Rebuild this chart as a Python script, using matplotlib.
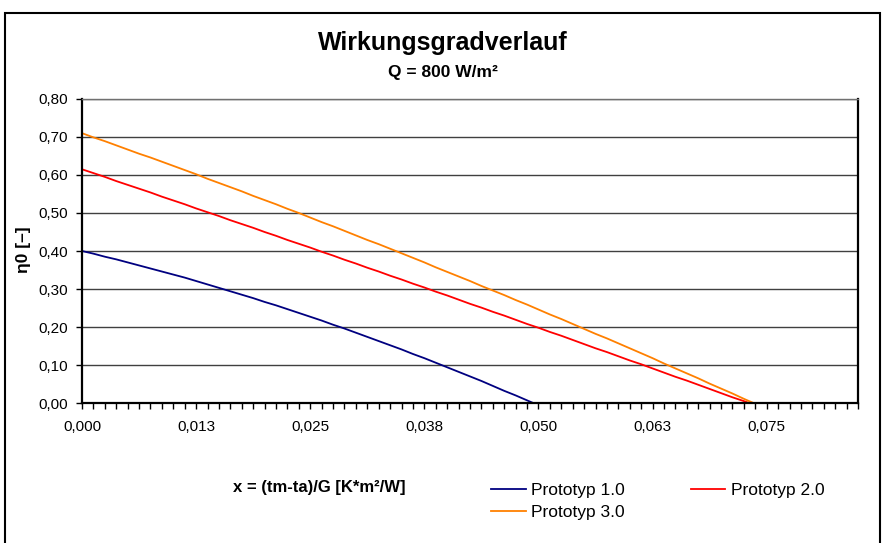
import numpy as np
from matplotlib import pyplot as plt
from matplotlib.patches import Rectangle

# x axis is an Excel category axis: one category per 1 K step at G = 800 W/m2
X_STEP = 0.00125
N_CATEGORIES = 69

X_TICK_LABELS = ["0,000", "0,013", "0,025", "0,038", "0,050", "0,063", "0,075"]
Y_TICKS = [0.0, 0.1, 0.2, 0.3, 0.4, 0.5, 0.6, 0.7, 0.8]
Y_TICK_LABELS = ["0,00", "0,10", "0,20", "0,30", "0,40", "0,50", "0,60", "0,70", "0,80"]

prototyp_1 = [
    0.400, 0.393, 0.385, 0.378, 0.370, 0.362, 0.354, 0.346, 0.338, 0.330,
    0.321, 0.312, 0.303, 0.294, 0.285, 0.276, 0.266, 0.257, 0.247, 0.237,
    0.227, 0.217, 0.206, 0.196, 0.185, 0.174, 0.163, 0.152, 0.141, 0.129,
    0.118, 0.106, 0.094, 0.082, 0.070, 0.058, 0.045, 0.032, 0.020, 0.007,
    -0.006,
]

prototyp_2 = [
    0.615, 0.605, 0.595, 0.584, 0.574, 0.564, 0.554, 0.543, 0.533, 0.523,
    0.512, 0.502, 0.492, 0.481, 0.471, 0.461, 0.450, 0.440, 0.429, 0.419,
    0.409, 0.398, 0.388, 0.377, 0.367, 0.356, 0.346, 0.335, 0.325, 0.314,
    0.304, 0.293, 0.283, 0.272, 0.261, 0.251, 0.240, 0.230, 0.219, 0.208,
    0.198, 0.187, 0.177, 0.166, 0.155, 0.144, 0.134, 0.123, 0.112, 0.102,
    0.091, 0.080, 0.069, 0.059, 0.048, 0.037, 0.026, 0.015, 0.005, -0.006,
]

prototyp_3 = [
    0.710, 0.699, 0.689, 0.678, 0.667, 0.656, 0.646, 0.635, 0.624, 0.613,
    0.602, 0.590, 0.579, 0.568, 0.557, 0.545, 0.534, 0.523, 0.511, 0.500,
    0.488, 0.476, 0.465, 0.453, 0.441, 0.429, 0.418, 0.406, 0.394, 0.382,
    0.370, 0.357, 0.345, 0.333, 0.321, 0.308, 0.296, 0.284, 0.271, 0.259,
    0.246, 0.233, 0.221, 0.208, 0.195, 0.182, 0.170, 0.157, 0.144, 0.131,
    0.118, 0.104, 0.091, 0.078, 0.065, 0.051, 0.038, 0.025, 0.011, -0.002,
]


def plot():
    plt.rcParams["font.family"] = ["Liberation Sans", "DejaVu Sans"]

    fig = plt.figure(figsize=(8.83, 5.43), dpi=100)
    ax = fig.add_axes([0.0929, 0.2578, 0.8788, 0.5599])

    series = [
        ("Prototyp 1.0", prototyp_1, "#000080"),
        ("Prototyp 2.0", prototyp_2, "#ff0000"),
        ("Prototyp 3.0", prototyp_3, "#ff8000"),
    ]
    handles = {}
    for name, values, color in series:
        x = np.arange(len(values)) * X_STEP
        (line,) = ax.plot(x, values, color=color, lw=1.3, label=name)
        handles[name] = line

    ax.set_xlim(0, (N_CATEGORIES - 1) * X_STEP)
    ax.set_ylim(0, 0.8)

    ax.set_xticks(np.arange(0, N_CATEGORIES, 10) * X_STEP)
    ax.set_xticklabels(X_TICK_LABELS)
    ax.set_xticks(np.arange(N_CATEGORIES) * X_STEP, minor=True)
    ax.set_yticks(Y_TICKS)
    ax.set_yticklabels(Y_TICK_LABELS)

    ax.tick_params(axis="both", which="both", direction="out", length=4, width=1,
                   labelsize=11, color="black")
    ax.tick_params(axis="x", which="major", pad=8)
    ax.tick_params(axis="y", pad=6)

    ax.yaxis.grid(True, color="#404040", lw=1)
    ax.set_axisbelow(True)

    for side in ["left", "bottom", "right"]:
        ax.spines[side].set_linewidth(1.6)
        ax.spines[side].set_color("black")
    ax.spines["top"].set_linewidth(1)
    ax.spines["top"].set_color("#707070")

    fig.text(0.502, 0.921, "Wirkungsgradverlauf", ha="center", va="center",
             fontsize=18, fontweight="bold")
    fig.text(0.502, 0.866, "Q = 800 W/m²", ha="center", va="center",
             fontsize=12.5, fontweight="bold")
    fig.text(0.027, 0.54, "η0 [–]", ha="center", va="center", rotation=90,
             fontsize=12.5, fontweight="bold")
    fig.text(0.361, 0.103, "x = (tm-ta)/G [K*m²/W]", ha="center", va="center",
             fontsize=12, fontweight="bold")

    # legend: row 1 has prototypes 1 and 2, row 2 has prototype 3
    order = ["Prototyp 1.0", "Prototyp 3.0", "Prototyp 2.0"]
    fig.legend(
        [handles[n] for n in order], order,
        loc="upper left", bbox_to_anchor=(0.556, 0.11),
        ncol=2, frameon=False, fontsize=12.5,
        handlelength=2.0, handletextpad=0.3, columnspacing=3.8,
        labelspacing=0.35, borderaxespad=0, borderpad=0,
    )

    fig.add_artist(Rectangle((0.0057, -0.05), 0.9909, 1.026, transform=fig.transFigure,
                             fill=False, lw=1.5, ec="black"))

    fig.savefig("out.png", dpi=100)


def main():
    plot()


if __name__ == "__main__":
    main()
